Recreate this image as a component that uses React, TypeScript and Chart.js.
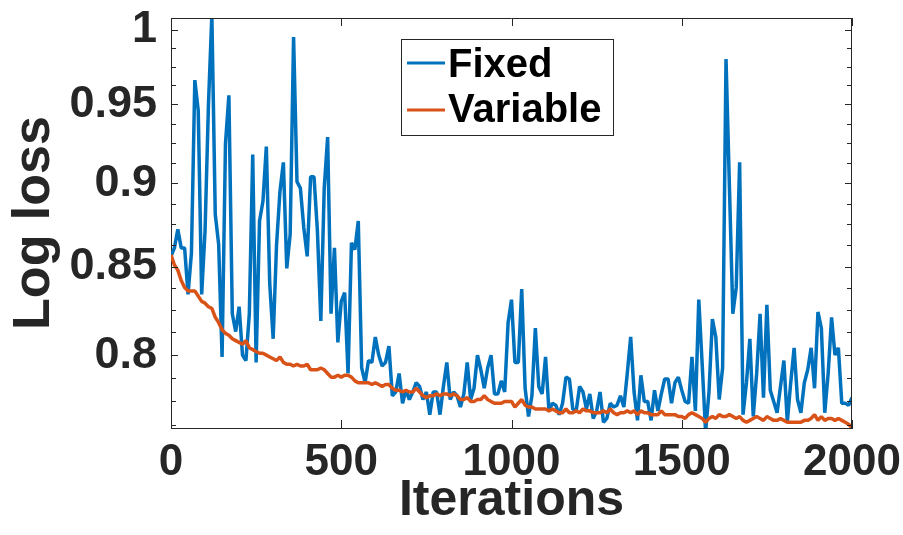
import React, { useEffect, useRef } from "react";
import { Chart, registerables } from "chart.js";

Chart.register(...registerables);

// x categories: iterations sampled every 10
const ITERATIONS: number[] = Array.from({ length: 201 }, (_, i) => i * 10);

const FIXED: number[] = [
  0.856, 0.861, 0.872, 0.861, 0.861, 0.834, 0.858, 0.966, 0.946, 0.834,
  0.871, 0.95, 1.01, 0.881, 0.863, 0.799, 0.925, 0.956, 0.823, 0.813,
  0.827, 0.8, 0.797, 0.823, 0.918, 0.796, 0.877, 0.889, 0.923, 0.84,
  0.809, 0.863, 0.895, 0.913, 0.849, 0.869, 0.995, 0.901, 0.897, 0.873,
  0.856, 0.904, 0.904, 0.871, 0.819, 0.897, 0.929, 0.823, 0.861, 0.807,
  0.83, 0.835, 0.79, 0.864, 0.86, 0.877, 0.793, 0.785, 0.797, 0.796,
  0.81, 0.8, 0.794, 0.796, 0.805, 0.778, 0.78, 0.79, 0.774, 0.781,
  0.776, 0.78, 0.785, 0.783, 0.776, 0.78, 0.768, 0.78, 0.78, 0.768,
  0.783, 0.796, 0.776, 0.78, 0.778, 0.772, 0.779, 0.796, 0.776, 0.782,
  0.8, 0.792, 0.782, 0.793, 0.8, 0.779, 0.779, 0.786, 0.78, 0.818,
  0.831, 0.796, 0.796, 0.837, 0.782, 0.767, 0.778, 0.815, 0.783, 0.779,
  0.799, 0.77, 0.774, 0.773, 0.768, 0.774, 0.788, 0.787, 0.771, 0.77,
  0.783, 0.78, 0.771, 0.779, 0.766, 0.77, 0.78, 0.764, 0.766, 0.774,
  0.772, 0.773, 0.778, 0.772, 0.79, 0.81, 0.78, 0.765, 0.789, 0.775,
  0.775, 0.765, 0.781, 0.77, 0.779, 0.787, 0.787, 0.774, 0.785, 0.788,
  0.781, 0.775, 0.774, 0.799, 0.77, 0.831, 0.795, 0.759, 0.78, 0.82,
  0.81, 0.776, 0.793, 0.98, 0.898, 0.823, 0.838, 0.913, 0.768, 0.785,
  0.809, 0.767, 0.79, 0.823, 0.777, 0.828, 0.781, 0.775, 0.769, 0.783,
  0.797, 0.764, 0.785, 0.804, 0.776, 0.769, 0.785, 0.792, 0.804, 0.782,
  0.824, 0.815, 0.769, 0.79, 0.821, 0.8, 0.804, 0.774, 0.774, 0.773,
  0.777,
];

const VARIABLE: number[] = [
  0.857, 0.851, 0.848, 0.842, 0.838, 0.836, 0.836, 0.836, 0.833, 0.83,
  0.829, 0.827, 0.826, 0.821, 0.818, 0.814, 0.812, 0.811, 0.809, 0.808,
  0.807, 0.806, 0.808, 0.804, 0.803, 0.802, 0.801, 0.801, 0.8, 0.799,
  0.798, 0.797, 0.799, 0.796, 0.795, 0.795, 0.794, 0.795, 0.794, 0.794,
  0.795, 0.792, 0.792, 0.792, 0.793, 0.792, 0.79, 0.788, 0.788, 0.789,
  0.788, 0.789, 0.789, 0.788, 0.786, 0.785, 0.785, 0.785, 0.785, 0.784,
  0.785, 0.784, 0.783, 0.784, 0.784, 0.782, 0.781, 0.781, 0.78, 0.781,
  0.78, 0.78, 0.782, 0.78, 0.778, 0.777, 0.778, 0.778, 0.779, 0.778,
  0.779, 0.779, 0.778, 0.779, 0.778, 0.776, 0.776, 0.777, 0.775, 0.775,
  0.776, 0.776, 0.778, 0.776, 0.775, 0.774, 0.774, 0.774, 0.775, 0.775,
  0.775, 0.772, 0.774, 0.776, 0.773, 0.772, 0.772, 0.771, 0.771, 0.771,
  0.771, 0.77, 0.771, 0.77, 0.769, 0.769, 0.771, 0.769, 0.769, 0.77,
  0.769, 0.771, 0.77, 0.77, 0.769, 0.769, 0.769, 0.77, 0.769, 0.771,
  0.769, 0.768, 0.769, 0.769, 0.77, 0.769, 0.77, 0.768, 0.77, 0.769,
  0.769, 0.768, 0.768, 0.768, 0.77, 0.768, 0.768, 0.768, 0.768, 0.767,
  0.767, 0.766, 0.768, 0.769, 0.768, 0.767, 0.766, 0.764, 0.766, 0.767,
  0.766, 0.768, 0.767, 0.767, 0.768, 0.767, 0.766, 0.767, 0.765, 0.764,
  0.765, 0.766, 0.767, 0.766, 0.765, 0.767, 0.766, 0.765, 0.765, 0.766,
  0.765, 0.764, 0.764, 0.764, 0.764, 0.764, 0.765, 0.765, 0.766, 0.768,
  0.765, 0.767, 0.765, 0.766, 0.766, 0.765, 0.766, 0.765, 0.764, 0.763,
  0.761,
];

const SERIES_NAMES = ["Fixed", "Variable"];
const X_TICKS = [0, 500, 1000, 1500, 2000];
const Y_TICKS = [
  0.7625, 0.775, 0.7875, 0.8, 0.8125, 0.825, 0.8375, 0.85, 0.8625, 0.875,
  0.8875, 0.9, 0.9125, 0.925, 0.9375, 0.95, 0.9625, 0.975, 0.9875, 1.0,
];
const Y_LABEL_VALUES = [0.8, 0.85, 0.9, 0.95, 1.0];
const Y_LABELS = ["0.8", "0.85", "0.9", "0.95", "1"];

const BLUE = "#0072BD";
const ORANGE = "#D95319";
const AXIS = "#262626";
const TEXT = "#262626";
const FONT = "'Liberation Sans', Arial, Helvetica, sans-serif";

function labelIndex(v: number): number {
  return Y_LABEL_VALUES.findIndex((m) => Math.abs(m - v) < 1e-6);
}

const framePlugin = {
  id: "frame",
  afterDatasetsDraw(chart: any) {
    const { ctx, chartArea } = chart;
    const { left, right, top, bottom } = chartArea;
    const xs = chart.scales.x;
    const ys = chart.scales.y;
    ctx.save();
    ctx.strokeStyle = AXIS;
    ctx.lineWidth = 1;
    ctx.beginPath();
    ctx.moveTo(left, top + 0.5);
    ctx.lineTo(right, top + 0.5);
    ctx.moveTo(right - 0.5, top);
    ctx.lineTo(right - 0.5, bottom);
    xs.ticks.forEach((t: any) => {
      const px = Math.round(xs.getPixelForValue(t.value)) + 0.5;
      ctx.moveTo(px, bottom);
      ctx.lineTo(px, bottom - 8);
      ctx.moveTo(px, top);
      ctx.lineTo(px, top + 8);
    });
    ys.ticks.forEach((t: any) => {
      const py = Math.round(ys.getPixelForValue(t.value)) + 0.5;
      const len = labelIndex(t.value) >= 0 ? 7 : 5;
      ctx.moveTo(left, py);
      ctx.lineTo(left + len, py);
      ctx.moveTo(right, py);
      ctx.lineTo(right - len, py);
    });
    ctx.stroke();
    ctx.restore();
  },
};

const legendPlugin = {
  id: "insideLegend",
  afterDraw(chart: any) {
    const { ctx, chartArea } = chart;
    const bx = chartArea.left + 230;
    const by = chartArea.top + 21;
    const bw = 213;
    const bh = 97;
    ctx.save();
    ctx.fillStyle = "#ffffff";
    ctx.fillRect(bx, by, bw, bh);
    ctx.strokeStyle = AXIS;
    ctx.lineWidth = 1;
    ctx.strokeRect(bx + 0.5, by + 0.5, bw - 1, bh - 1);
    const rows = [
      { y: by + 24, base: by + 38 },
      { y: by + 71, base: by + 83 },
    ];
    chart.data.datasets.forEach((ds: any, i: number) => {
      const r = rows[i];
      ctx.strokeStyle = ds.borderColor;
      ctx.lineWidth = 3;
      ctx.beginPath();
      ctx.moveTo(bx + 6, r.y);
      ctx.lineTo(bx + 44, r.y);
      ctx.stroke();
      ctx.fillStyle = "#000000";
      ctx.font = `bold 40px ${FONT}`;
      ctx.textAlign = "left";
      ctx.textBaseline = "alphabetic";
      ctx.fillText(ds.label, bx + 47, r.base);
    });
    ctx.restore();
  },
};

export default function App() {
  const canvasRef = useRef<HTMLCanvasElement | null>(null);

  useEffect(() => {
    document.body.style.margin = "0";
    const canvas = canvasRef.current;
    if (!canvas) return;
    const chart = new Chart(canvas, {
      type: "line",
      data: {
        datasets: [
          {
            label: SERIES_NAMES[0],
            data: FIXED.map((v, i) => ({ x: ITERATIONS[i], y: v })),
            borderColor: BLUE,
            backgroundColor: BLUE,
            borderWidth: 3.5,
            borderJoinStyle: "bevel",
            pointRadius: 0,
            tension: 0,
            clip: 0,
            order: 2,
          },
          {
            label: SERIES_NAMES[1],
            data: VARIABLE.map((v, i) => ({ x: ITERATIONS[i], y: v })),
            borderColor: ORANGE,
            backgroundColor: ORANGE,
            borderWidth: 3.5,
            borderJoinStyle: "bevel",
            pointRadius: 0,
            tension: 0,
            clip: 0,
            order: 1,
          },
        ],
      },
      options: {
        responsive: false,
        animation: false,
        devicePixelRatio: 1,
        layout: { padding: { left: 0, right: 51, top: 18, bottom: 0 } },
        plugins: {
          legend: { display: false },
          tooltip: { enabled: false },
        },
        scales: {
          x: {
            type: "linear",
            min: 0,
            max: 2000,
            afterBuildTicks: (s: any) => {
              s.ticks = X_TICKS.map((v) => ({ value: v }));
            },
            afterFit: (s: any) => {
              s.height = 107;
              s.paddingLeft = 0;
              s.paddingRight = 0;
            },
            grid: { display: false, drawTicks: false },
            border: { display: true, color: AXIS, width: 1 },
            ticks: {
              padding: 8,
              color: TEXT,
              autoSkip: false,
              maxRotation: 0,
              font: { family: FONT, size: 44, weight: "bold", lineHeight: 1.2 },
              callback: (v: any) => String(v),
            },
            title: {
              display: true,
              text: "Iterations",
              color: TEXT,
              font: { family: FONT, size: 50, weight: "bold", lineHeight: 1 },
              padding: { top: 0, bottom: 9 },
            },
          },
          y: {
            type: "logarithmic",
            min: 0.761,
            max: 1.008,
            afterBuildTicks: (s: any) => {
              s.ticks = Y_TICKS.map((v) => ({ value: v }));
            },
            afterFit: (s: any) => {
              s.width = 171;
              s.paddingTop = 0;
              s.paddingBottom = 0;
            },
            grid: { display: false, drawTicks: false },
            border: { display: true, color: AXIS, width: 1 },
            ticks: {
              padding: 14,
              color: TEXT,
              autoSkip: false,
              font: { family: FONT, size: 45, weight: "bold", lineHeight: 1.2 },
              callback: (v: any) => {
                const k = labelIndex(Number(v));
                return k >= 0 ? Y_LABELS[k] : "";
              },
            },
            title: {
              display: true,
              text: "Log loss",
              color: TEXT,
              font: { family: FONT, size: 52, weight: "bold", lineHeight: 1 },
              padding: { top: 9, bottom: 0 },
            },
          },
        },
      },
      plugins: [framePlugin, legendPlugin],
    } as any);
    return () => chart.destroy();
  }, []);

  return (
    <div style={{ width: 903, height: 535 }}>
      <canvas ref={canvasRef} width={903} height={535} style={{ display: "block" }} />
    </div>
  );
}
